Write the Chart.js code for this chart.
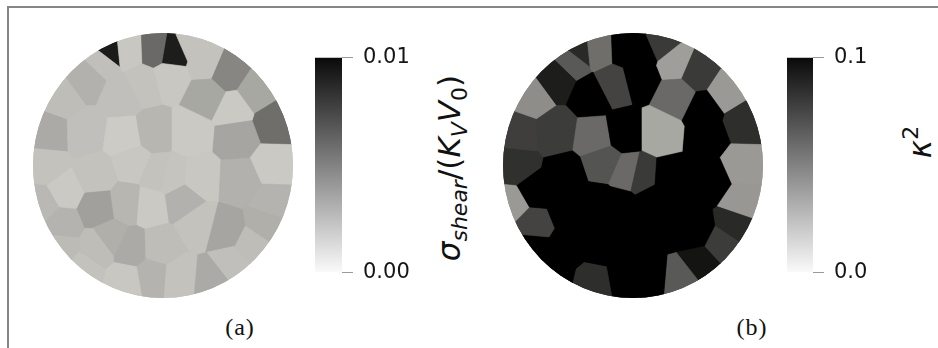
<!DOCTYPE html>
<html><head><meta charset="utf-8">
<script src="https://cdn.jsdelivr.net/npm/chart.js@4.4.1/dist/chart.umd.min.js"></script>
<style>
html,body{margin:0;padding:0;background:#fff;}
body{width:938px;height:348px;position:relative;overflow:hidden;font-family:"DejaVu Sans",sans-serif;}
.frameT{position:absolute;left:7px;top:6px;width:931px;height:2px;background:#858585;}
.frameL{position:absolute;left:7px;top:6px;width:2px;height:342px;background:#858585;}
canvas{position:absolute;}
.cap{position:absolute;font-family:"Liberation Serif",serif;font-size:24px;letter-spacing:1px;color:#111;transform:translate(-50%,-50%);white-space:nowrap;}
.lbl{position:absolute;white-space:nowrap;font-family:"DejaVu Sans",sans-serif;font-size:31px;color:#111;transform:translate(-50%,-50%) rotate(-90deg);line-height:1;}
.lbl sub{font-size:22px;vertical-align:-7px;}
.lbl sup{font-size:22px;vertical-align:13px;}
.it{font-style:italic;}
</style></head>
<body>
<div class="frameT"></div><div class="frameL"></div>
<canvas id="diskA" width="260" height="265" style="left:33px;top:33px"></canvas>
<canvas id="barA" width="100" height="260" style="left:315px;top:35px"></canvas>
<canvas id="diskB" width="260" height="265" style="left:503px;top:33px"></canvas>
<canvas id="barB" width="80" height="260" style="left:787px;top:35px"></canvas>
<div class="lbl" style="left:452px;top:168px"><span class="it">σ</span><sub class="it">shear</sub>/(<span class="it">K</span><sub class="it">V</sub><span class="it">V</span><sub>0</sub>)</div>
<div class="lbl" style="left:918px;top:142px"><span class="it">κ</span><sup>2</sup></div>
<div class="cap" id="capA" style="left:240px;top:327px"></div>
<div class="cap" id="capB" style="left:752px;top:327px"></div>
<script>
// ---- data: grain centres (disk units, radius 130) ----
const grainX = [-54,-60,-35,-7,10,28,42,65,93,111,70,74,110,109,102,89,62,69,49,15,-11,-38,-80,-65,-103,-101,-120,-98,-116,-113,-101,-77,-41,-20,7,44,-78,-38,-9,27,-30,-5,8,37,-68,-65,-36,-13,20,35,77,-32,-3,-53];
const grainY = [111,103,113,114,111,119,101,91,72,42,55,28,0,-37,-58,-78,-64,-97,-113,-110,-108,-113,-103,-80,-80,-57,-38,-25,0,32,67,85,69,80,87,68,33,27,32,32,3,-8,-11,-13,-10,-42,-38,-40,-35,-57,-15,-81,-80,-71];
// shear stress sigma_shear/(K_V V_0) per grain (panel a)
const shearStress = [0.0093,0.0024,0.0021,0.0060,0.0092,0.0023,0.0023,0.0048,0.0034,0.0058,0.0020,0.0035,0.0020,0.0029,0.0031,0.0025,0.0035,0.0024,0.0033,0.0023,0.0029,0.0021,0.0023,0.0025,0.0026,0.0029,0.0027,0.0020,0.0023,0.0033,0.0025,0.0030,0.0024,0.0023,0.0021,0.0034,0.0024,0.0019,0.0028,0.0020,0.0021,0.0023,0.0022,0.0021,0.0023,0.0037,0.0028,0.0020,0.0030,0.0023,0.0030,0.0033,0.0025,0.0031];
// kappa^2 per grain (panel b)
const kappaSq = [0.087,0.067,0.058,0.11,0.11,0.080,0.038,0.080,0.040,0.085,0.11,0.11,0.040,0.041,0.087,0.079,0.11,0.096,0.067,0.11,0.11,0.085,0.11,0.11,0.11,0.076,0.040,0.11,0.084,0.078,0.045,0.092,0.11,0.076,0.11,0.060,0.079,0.060,0.11,0.034,0.069,0.060,0.080,0.11,0.11,0.11,0.11,0.11,0.11,0.11,0.11,0.11,0.11,0.11];
const shearTickValues = [0, 0.01];
const shearTickLabels = ['0.00', '0.01'];
const kappaTickValues = [0, 0.1];
const kappaTickLabels = ['0.0', '0.1'];
const panelLabels = ['(a)', '(b)'];

const DISK_R = 130;

function grayLevel(t){ return Math.max(0, Math.min(250, 250 - 240*t)); }
function cellColor(t){
  const g = grayLevel(t);
  return 'rgb(' + Math.round(g) + ',' + Math.round(g - g*0.005) + ',' + Math.round(g - g*0.03) + ')';
}
function neutral(t){ const g = Math.round(grayLevel(t)); return 'rgb(' + g + ',' + g + ',' + g + ')'; }

function clipHalf(poly, nx, ny, c){
  const out = [];
  for (let i = 0; i < poly.length; i++){
    const P = poly[i], Q = poly[(i+1) % poly.length];
    const dp = nx*P[0] + ny*P[1] - c, dq = nx*Q[0] + ny*Q[1] - c;
    if (dp <= 0) out.push(P);
    if ((dp < 0 && dq > 0) || (dp > 0 && dq < 0)){
      const t = dp / (dp - dq);
      out.push([P[0] + t*(Q[0]-P[0]), P[1] + t*(Q[1]-P[1])]);
    }
  }
  return out;
}
function voronoiCells(xs, ys, R){
  const base = [];
  for (let k = 0; k < 240; k++){ const a = 2*Math.PI*k/240; base.push([R*Math.cos(a), R*Math.sin(a)]); }
  return xs.map((xi, i) => {
    const yi = ys[i]; let poly = base;
    for (let j = 0; j < xs.length; j++){
      if (j === i) continue;
      const xj = xs[j], yj = ys[j];
      poly = clipHalf(poly, xj - xi, yj - yi, (xj*xj + yj*yj - xi*xi - yi*yi) / 2);
      if (!poly.length) break;
    }
    return poly;
  });
}

const voronoiPlugin = {
  id: 'voronoiCells',
  beforeDatasetsDraw(chart){
    const ds = chart.data.datasets[0];
    const pts = ds.data;
    const cells = voronoiCells(pts.map(p => p.x), pts.map(p => p.y), DISK_R);
    const sx = chart.scales.x, sy = chart.scales.y, ctx = chart.ctx;
    const paths = cells.map(poly => {
      const p2 = new Path2D();
      poly.forEach((p, k) => {
        const px = sx.getPixelForValue(p[0]), py = sy.getPixelForValue(p[1]);
        if (k === 0) p2.moveTo(px, py); else p2.lineTo(px, py);
      });
      p2.closePath();
      return p2;
    });
    ctx.save();
    // clip to the disk so seam-covering strokes stay inside
    const disk = new Path2D();
    disk.ellipse(sx.getPixelForValue(0), sy.getPixelForValue(0),
      Math.abs(sx.getPixelForValue(DISK_R) - sx.getPixelForValue(0)),
      Math.abs(sy.getPixelForValue(DISK_R) - sy.getPixelForValue(0)), 0, 0, 2*Math.PI);
    ctx.clip(disk);
    ctx.lineJoin = 'round';
    paths.forEach((p2, i) => {
      const col = cellColor(pts[i].v / ds.vmax);
      ctx.fillStyle = col; ctx.strokeStyle = col; ctx.lineWidth = 1.6;
      ctx.stroke(p2);
    });
    paths.forEach((p2, i) => {
      const col = cellColor(pts[i].v / ds.vmax);
      ctx.fillStyle = col; ctx.strokeStyle = col; ctx.lineWidth = 0.6;
      ctx.fill(p2); ctx.stroke(p2);
    });
    ctx.restore();
  }
};

function diskChart(id, values, vmax){
  new Chart(document.getElementById(id), {
    type: 'scatter',
    data: { datasets: [{ vmax: vmax, data: grainX.map((x, i) => ({ x: x, y: grainY[i], v: values[i] })), pointRadius: 0, pointHoverRadius: 0 }] },
    options: {
      responsive: false, animation: false, events: [],
      layout: { padding: 0 },
      plugins: { legend: { display: false }, tooltip: { enabled: false } },
      scales: {
        x: { type: 'linear', min: -DISK_R, max: DISK_R, display: false },
        y: { type: 'linear', min: -DISK_R, max: DISK_R, display: false }
      }
    },
    plugins: [voronoiPlugin]
  });
}

function colorbar(id, tickValues, tickLabels, axisWidth){
  const vmax = tickValues[tickValues.length - 1];
  new Chart(document.getElementById(id), {
    type: 'bar',
    data: { labels: [''], datasets: [{
      data: [vmax], borderWidth: 0, barPercentage: 1, categoryPercentage: 1, inflateAmount: 0,
      backgroundColor: (c) => {
        const a = c.chart.chartArea; if (!a) return '#000';
        const g = c.chart.ctx.createLinearGradient(0, a.bottom, 0, a.top);
        for (let k = 0; k <= 10; k++) g.addColorStop(k/10, neutral(k/10));
        return g;
      }
    }] },
    options: {
      responsive: false, animation: false, events: [],
      layout: { padding: { top: 16, bottom: 18, left: 0, right: 0 } },
      plugins: { legend: { display: false }, tooltip: { enabled: false } },
      scales: {
        x: { display: false },
        y: {
          position: 'right', min: 0, max: vmax,
          afterBuildTicks: (s) => { s.ticks = tickValues.map(v => ({ value: v })); },
          afterFit: (s) => { s.width = axisWidth; },
          ticks: { callback: (v, i) => tickLabels[i], color: '#151515', font: { family: 'DejaVu Sans', size: 21 }, padding: 10 },
          grid: { drawOnChartArea: false, drawTicks: true, tickLength: 11, tickColor: '#9a9a9a', lineWidth: 1 },
          border: { display: false }
        }
      }
    }
  });
}

diskChart('diskA', shearStress, 0.01);
diskChart('diskB', kappaSq, 0.1);
colorbar('barA', shearTickValues, shearTickLabels, 73);
colorbar('barB', kappaTickValues, kappaTickLabels, 54);
document.getElementById('capA').textContent = panelLabels[0];
document.getElementById('capB').textContent = panelLabels[1];
</script>
</body></html>
